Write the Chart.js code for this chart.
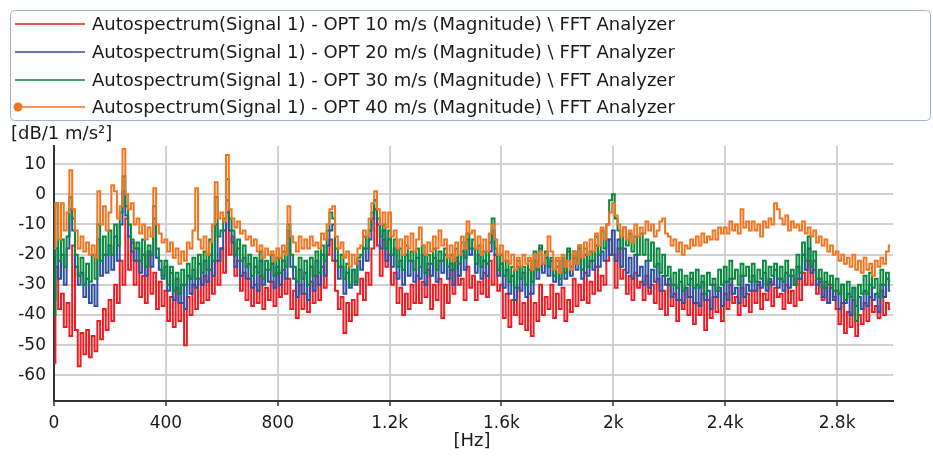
<!DOCTYPE html>
<html>
<head>
<meta charset="utf-8">
<script src="https://cdn.jsdelivr.net/npm/chart.js@4.4.1/dist/chart.umd.min.js"></script>
<style>
  html, body { margin: 0; padding: 0; background: #ffffff; }
  #wrap { width: 933px; height: 457px; position: relative; }
</style>
</head>
<body>
<div id="wrap"><canvas id="c" width="933" height="457"></canvas></div>
<script>
// FFT bin frequencies (10 Hz resolution), 0 .. 2990 Hz
const freqHz = Array.from({ length: 300 }, (_, i) => i * 10);

const seriesNames = [
  "Autospectrum(Signal 1) - OPT 10 m/s (Magnitude) \\ FFT Analyzer",
  "Autospectrum(Signal 1) - OPT 20 m/s (Magnitude) \\ FFT Analyzer",
  "Autospectrum(Signal 1) - OPT 30 m/s (Magnitude) \\ FFT Analyzer",
  "Autospectrum(Signal 1) - OPT 40 m/s (Magnitude) \\ FFT Analyzer"
];

const yTicks = [10, 0, -10, -20, -30, -40, -50, -60];
const xTicks = [0, 400, 800, 1200, 1600, 2000, 2400, 2800];
const xTickLabels = ["0", "400", "800", "1.2k", "1.6k", "2k", "2.4k", "2.8k"];

// dB values, one row = 100 Hz
const opt10 = [
  -56, -24, -38, -33, -44, -36, -47, -17, -45, -57,
  -46, -53, -45, -54, -47, -52, -42, -48, -38, -45,
  -35, -42, -30, -36, -22, -30, -8, -25, -16, -30,
  -22, -34, -27, -36, -20, -33, -26, -38, -29, -37,
  -32, -42, -34, -44, -31, -42, -36, -50, -34, -40,
  -30, -38, -28, -36, -27, -35, -25, -33, -22, -30,
  -18, -26, -6, -20, -14, -27, -22, -32, -26, -35,
  -28, -37, -30, -36, -27, -38, -31, -35, -29, -37,
  -26, -34, -25, -33, -28, -38, -32, -41, -30, -38,
  -33, -39, -29, -36, -27, -35, -24, -31, -20, -15,
  -22, -32, -38, -34, -46, -36, -42, -35, -40, -33,
  -28, -35, -26, -30, -18, -5, -17, -27, -15, -24,
  -20, -30, -26, -36, -31, -40, -33, -38, -30, -36,
  -27, -36, -29, -34, -25, -38, -30, -35, -28, -41,
  -30, -36, -25, -33, -22, -30, -28, -35, -24, -31,
  -27, -35, -29, -33, -26, -34, -22, -30, -20, -32,
  -30, -41, -33, -44, -35, -40, -31, -43, -36, -45,
  -33, -47, -36, -42, -30, -40, -34, -38, -30, -41,
  -33, -38, -31, -42, -35, -39, -28, -37, -30, -35,
  -26, -36, -29, -33, -24, -32, -27, -30, -22, -15,
  -20, -31, -18, -28, -25, -33, -27, -35, -26, -31,
  -29, -35, -27, -33, -30, -36, -28, -38, -32, -40,
  -30, -37, -33, -42, -35, -38, -31, -40, -34, -43,
  -36, -40, -33, -45, -35, -41, -34, -39, -32, -42,
  -33, -38, -30, -36, -34, -40, -31, -37, -33, -39,
  -32, -36, -30, -38, -33, -35, -29, -37, -31, -34,
  -33, -38, -30, -36, -32, -37, -28, -35, -26, -30,
  -22, -30, -25, -33, -29, -35, -31, -36, -30, -34,
  -38, -43, -36, -46, -39, -44, -35, -47, -40, -43,
  -36, -42, -34, -39, -37, -41, -32, -40, -36, -38
];

const opt20 = [
  -35, -18, -28, -20, -30, -18, -5, -12, -24, -30,
  -26, -34, -28, -36, -30, -37, -15, -27, -20, -26,
  -17, -25, -14, -22, -10, 1, -7, -14, -19, -22,
  -18, -26, -20, -27, -19, -24, -8, -21, -25, -28,
  -24, -32, -26, -35, -28, -36, -30, -38, -27, -33,
  -25, -31, -23, -30, -22, -29, -20, -27, -10, -22,
  -18, -12, -2, -12, -16, -24, -18, -27, -21, -28,
  -23, -31, -24, -32, -22, -30, -25, -29, -23, -31,
  -24, -30, -22, -28, -12, -24, -28, -34, -25, -33,
  -26, -35, -24, -32, -22, -30, -20, -27, -17, -12,
  -10, -22, -28, -24, -33, -26, -31, -25, -30, -22,
  -25, -18, -22, -15, -8, -2, -10, -18, -12, -22,
  -15, -24, -18, -28, -22, -30, -20, -27, -22, -29,
  -21, -28, -20, -30, -23, -27, -21, -29, -22, -26,
  -20, -28, -23, -30, -21, -27, -19, -25, -15, -20,
  -18, -26, -20, -28, -22, -27, -19, -12, -20, -27,
  -23, -31, -25, -33, -27, -35, -24, -32, -26, -34,
  -25, -33, -22, -28, -18, -26, -21, -27, -22, -29,
  -24, -30, -22, -28, -19, -27, -21, -25, -18, -28,
  -20, -27, -22, -25, -17, -24, -19, -22, -15, -20,
  -12, -22, -15, -24, -18, -26, -21, -28, -20, -27,
  -24, -30, -22, -31, -25, -29, -23, -32, -27, -30,
  -28, -34, -30, -35, -29, -36, -31, -34, -28, -36,
  -30, -37, -29, -35, -32, -38, -30, -34, -31, -37,
  -29, -35, -28, -33, -31, -36, -27, -34, -30, -32,
  -27, -32, -29, -31, -26, -32, -28, -30, -25, -31,
  -28, -32, -26, -31, -27, -30, -24, -28, -20, -25,
  -18, -26, -22, -30, -28, -34, -29, -36, -31, -35,
  -32, -38, -30, -36, -33, -40, -31, -37, -34, -38,
  -32, -37, -30, -35, -33, -39, -30, -34, -28, -32
];

const opt30 = [
  -40, -3, -22, -15, -24, -14, -1, -8, -20, -27,
  -21, -30, -23, -29, -20, -28, -10, -22, -14, -20,
  -12, -20, -10, -17, -6, 6, -4, -10, -15, -18,
  -16, -22, -15, -24, -17, -20, -4, -18, -22, -27,
  -22, -30, -24, -32, -26, -33, -25, -30, -23, -28,
  -21, -28, -20, -26, -19, -25, -15, -22, -1, -14,
  -12, -8, 5, -8, -12, -20, -15, -22, -17, -24,
  -20, -27, -21, -26, -19, -28, -22, -25, -20, -27,
  -21, -26, -19, -24, -10, -20, -24, -29, -21, -28,
  -22, -30, -21, -27, -19, -26, -17, -22, -12, -6,
  -8, -18, -24, -20, -28, -23, -30, -25, -29, -21,
  -20, -14, -18, -12, -6, -2, -8, -14, -10, -18,
  -12, -20, -15, -24, -18, -25, -17, -22, -19, -25,
  -18, -24, -17, -26, -20, -23, -18, -25, -19, -22,
  -18, -24, -20, -25, -18, -23, -16, -21, -13, -18,
  -15, -23, -17, -24, -19, -23, -16, -8, -18, -25,
  -20, -27, -22, -29, -24, -31, -22, -28, -24, -30,
  -22, -29, -19, -25, -17, -23, -19, -24, -21, -27,
  -22, -28, -21, -26, -18, -24, -19, -23, -17, -25,
  -18, -24, -19, -22, -14, -20, -12, -18, -10, -2,
  0, -8, -12, -18, -11, -17, -13, -19, -14, -20,
  -13, -20, -15, -22, -16, -24, -18, -26, -20, -27,
  -24, -30, -26, -31, -25, -32, -27, -30, -26, -31,
  -25, -31, -27, -33, -26, -30, -28, -32, -25, -30,
  -24, -29, -22, -28, -25, -30, -23, -27, -24, -29,
  -23, -29, -25, -28, -22, -30, -24, -27, -23, -28,
  -24, -29, -22, -27, -25, -30, -20, -26, -16, -22,
  -14, -24, -19, -28, -25, -31, -26, -30, -27, -32,
  -28, -33, -30, -35, -29, -34, -31, -42, -30, -33,
  -27, -33, -26, -31, -28, -34, -25, -30, -26, -29
];

const opt40 = [
  -18, -3, -15, -3, -12, -6, 8, -5, -12, -18,
  -14, -19, -16, -20, -17, -21, 1, -10, -4, -12,
  -6, 3, 1, -8, -4, 15, 0, -5, -3, -10,
  -8, -13, -10, -15, -11, -14, 2, -10, -13, -16,
  -15, -19, -16, -21, -18, -23, -19, -22, -16, -18,
  -12, 2, -15, -18, -14, -20, -16, -10, 4, -8,
  -6, -9, 13, -5, -8, -11, -9, -13, -12, -15,
  -14, -17, -15, -19, -17, -21, -18, -20, -19, -22,
  -18, -21, -17, -20, -4, -14, -16, -19, -14, -18,
  -15, -18, -14, -17, -16, -18, -13, -15, -10, -5,
  -4, -14, -18, -16, -21, -19, -24, -20, -23, -18,
  -17, -12, -14, -8, -3, 1, -5, -10, -6, -11,
  -6, -14, -12, -18, -15, -20, -14, -18, -13, -19,
  -15, -11, -17, -20, -16, -19, -14, -18, -12, -17,
  -15, -21, -17, -22, -16, -20, -14, -18, -9, -13,
  -12, -18, -14, -20, -15, -19, -13, -10, -15, -20,
  -17, -22, -19, -23, -20, -25, -21, -24, -20, -23,
  -21, -25, -20, -24, -19, -23, -20, -14, -19, -25,
  -21, -26, -20, -24, -22, -25, -19, -23, -17, -21,
  -16, -20, -15, -19, -13, -17, -11, -15, -10, -6,
  -3, -7, -10, -14, -11, -15, -12, -16, -10, -14,
  -11, -13, -9, -12, -10, -14, -12, -9, -8, -13,
  -14, -17, -15, -19, -16, -20, -17, -18, -15, -17,
  -14, -17, -13, -16, -14, -15, -12, -15, -11, -13,
  -11, -13, -9, -12, -10, -13, -5, -11, -9, -12,
  -9, -12, -10, -14, -9, -11, -8, -10, -3, -5,
  -8, -10, -7, -12, -9, -11, -10, -12, -9, -13,
  -11, -14, -12, -16, -14, -17, -15, -19, -17, -20,
  -19, -22, -20, -23, -21, -24, -20, -25, -22, -26,
  -21, -25, -23, -27, -22, -24, -21, -23, -19, -17
];

const seriesValues = [opt10, opt20, opt30, opt40];
const seriesColors = ["#ee1d24", "#2e4fa3", "#08893d", "#f47521"];
const drawOrder = [4, 3, 2, 1]; // orange drawn on top

const FONT = "'DejaVu Sans', 'Liberation Sans', sans-serif";

const legendPlugin = {
  id: "boxLegend",
  afterDraw(chart) {
    const ctx = chart.ctx;
    ctx.save();
    const bx = 10.5, by = 10.5, bw = 920, bh = 110, r = 4;
    ctx.beginPath();
    ctx.moveTo(bx + r, by);
    ctx.lineTo(bx + bw - r, by);
    ctx.quadraticCurveTo(bx + bw, by, bx + bw, by + r);
    ctx.lineTo(bx + bw, by + bh - r);
    ctx.quadraticCurveTo(bx + bw, by + bh, bx + bw - r, by + bh);
    ctx.lineTo(bx + r, by + bh);
    ctx.quadraticCurveTo(bx, by + bh, bx, by + bh - r);
    ctx.lineTo(bx, by + r);
    ctx.quadraticCurveTo(bx, by, bx + r, by);
    ctx.strokeStyle = "#9fb5d2";
    ctx.lineWidth = 1;
    ctx.stroke();

    const rows = [24, 52, 80, 107];
    ctx.font = "18px " + FONT;
    ctx.textBaseline = "middle";
    ctx.textAlign = "left";
    seriesNames.forEach((name, i) => {
      const y = rows[i];
      ctx.strokeStyle = seriesColors[i];
      ctx.lineWidth = 1.5;
      ctx.beginPath();
      ctx.moveTo(15, y);
      ctx.lineTo(85, y);
      ctx.stroke();
      if (i === 3) {
        ctx.fillStyle = seriesColors[i];
        ctx.beginPath();
        ctx.arc(18, y, 4.5, 0, Math.PI * 2);
        ctx.fill();
      }
      ctx.fillStyle = "#1a1a1a";
      ctx.fillText(name, 92, y + 1);
    });

    ctx.fillStyle = "#1a1a1a";
    ctx.textAlign = "left";
    ctx.fillText("[dB/1 m/s\u00b2]", 11, 134);
    ctx.textAlign = "center";
    ctx.fillText("[Hz]", 472, 441);
    ctx.restore();
  }
};

new Chart(document.getElementById("c"), {
  type: "line",
  data: {
    datasets: seriesValues.map((vals, i) => ({
      label: seriesNames[i],
      data: vals.map((v, k) => ({ x: freqHz[k], y: v })),
      borderColor: seriesColors[i],
      backgroundColor: seriesColors[i],
      borderWidth: 2,
      pointRadius: 0,
      stepped: "middle",
      order: drawOrder[i]
    }))
  },
  options: {
    responsive: false,
    animation: false,
    devicePixelRatio: 1,
    layout: { padding: { top: 146, right: 40, left: 0, bottom: 0 } },
    plugins: { legend: { display: false }, tooltip: { enabled: false } },
    scales: {
      x: {
        type: "linear",
        min: 0,
        max: 3000,
        afterFit(scale) { scale.height = 56; },
        afterBuildTicks(scale) { scale.ticks = xTicks.map(v => ({ value: v })); },
        ticks: {
          autoSkip: false,
          maxRotation: 0,
          padding: 7,
          color: "#1a1a1a",
          font: { family: FONT, size: 17 },
          callback(value) {
            const idx = xTicks.indexOf(value);
            return idx >= 0 ? xTickLabels[idx] : "";
          }
        },
        grid: { color: "#d2d2d2", lineWidth: 2, drawTicks: true, tickLength: 5, tickColor: "#333333", tickWidth: 1.5 },
        border: { display: true, color: "#333333", width: 2 }
      },
      y: {
        type: "linear",
        min: -68.5,
        max: 16,
        afterFit(scale) { scale.width = 54; },
        afterBuildTicks(scale) { scale.ticks = yTicks.map(v => ({ value: v })); },
        ticks: {
          padding: 8,
          color: "#1a1a1a",
          font: { family: FONT, size: 17 }
        },
        grid: { color: "#d2d2d2", lineWidth: 2, drawTicks: false },
        border: { display: true, color: "#333333", width: 2 }
      }
    }
  },
  plugins: [legendPlugin]
});
</script>
</body>
</html>
